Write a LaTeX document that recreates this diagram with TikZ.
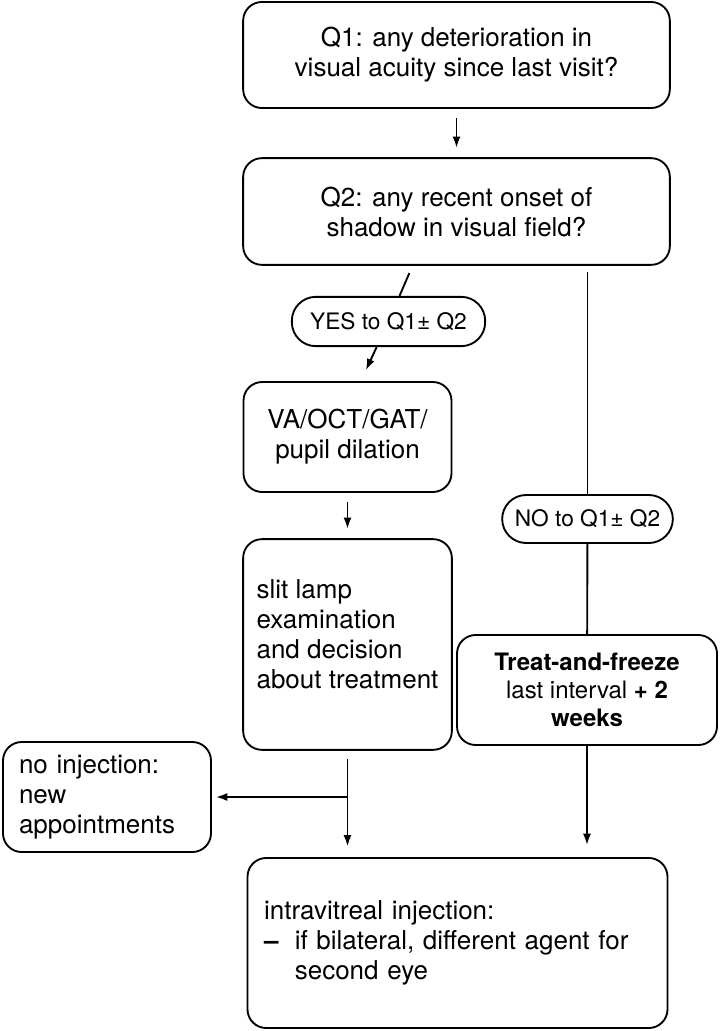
\documentclass[tikz,border=0pt]{standalone}
\usepackage{fontspec}
\setmainfont{TeX Gyre Heros}
\usetikzlibrary{arrows.meta}

\begin{document}
\begin{tikzpicture}
[x=0.75pt,y=-0.75pt,line width=1.4pt,%
  >={Latex[length=8.5pt,width=6pt]},%
  every node/.style={font=\fontsize{19.5}{22.5}\selectfont},%
  box/.style={shape=rectangle,draw,rounded corners=14pt,align=center,inner sep=0pt},%
  tag/.style={shape=rectangle,draw,rounded corners=18pt,inner sep=0pt,%
    font=\fontsize{17}{20}\selectfont},%
  gap/.style={shorten <=7pt,shorten >=7pt}]
\useasboundingbox (0,0) rectangle (719,1031);
\node[box,minimum width=320pt,minimum height=79.5pt] (q1) at (456.5,55)
  {Q1: any deterioration in\\visual acuity since last visit?};
\node[box,minimum width=320pt,minimum height=80pt] (q2) at (456.5,211.5)
  {Q2: any recent onset of\\shadow in visual field?};
\node[tag,minimum width=145pt,minimum height=37pt] (yes) at (388.5,321.5) {YES to Q1± Q2};
\node[box,minimum width=156pt,minimum height=82.5pt] (va) at (347.5,437)
  {VA/OCT/GAT/\\pupil dilation};
\node[tag,minimum width=128pt,minimum height=36pt] (no) at (587.5,519) {NO to Q1± Q2};
\node[box,align=left,minimum width=156.5pt,minimum height=158pt] (slit) at (347.5,644.5)
  {slit lamp\\examination\\and decision\\about treatment\\[-7.5pt]};
\node[box,minimum width=195pt,minimum height=82.5pt,%
  font=\fontsize{18}{21}\selectfont] (treat) at (587,690)
  {\textbf{Treat-and-freeze}\\last interval \textbf{+ 2}\\\textbf{weeks}};
\node[box,align=left,text width=132pt,minimum width=156pt,minimum height=82.5pt] (noinj) at (107,797)
  {no injection:\\new\\appointments};
\node[box,align=left,text width=290pt,minimum width=315pt,minimum height=127.5pt] (inj) at (457.5,943)
  {intravitreal injection:\\\makebox[23pt][l]{\textbf{--}}if bilateral, different agent for\\\hspace*{23pt}second eye};

% left branch
\draw[->,gap] (q1) -- (q2);
\coordinate (yfrom) at ([xshift=-33pt]q2.south);
\coordinate (yto) at ([xshift=10pt]va.north);
\draw[shorten <=6pt] (yfrom) -- (yes);
\draw[->,shorten >=9pt] (yes) -- (yto);
\draw[->,gap] (va) -- (slit);
\draw[->,shorten <=6pt,shorten >=8pt] (slit) -- (slit |- inj.north);
\coordinate (split) at (slit |- noinj.east);
\draw[->,shorten >=3pt] (split) -- (noinj);
% right branch
\draw[shorten <=5pt] (q2.south -| no) -- (no);
\draw (no) -- (treat);
\draw[->,shorten >=9pt] (treat) -- (treat |- inj.north);
\end{tikzpicture}
\end{document}
